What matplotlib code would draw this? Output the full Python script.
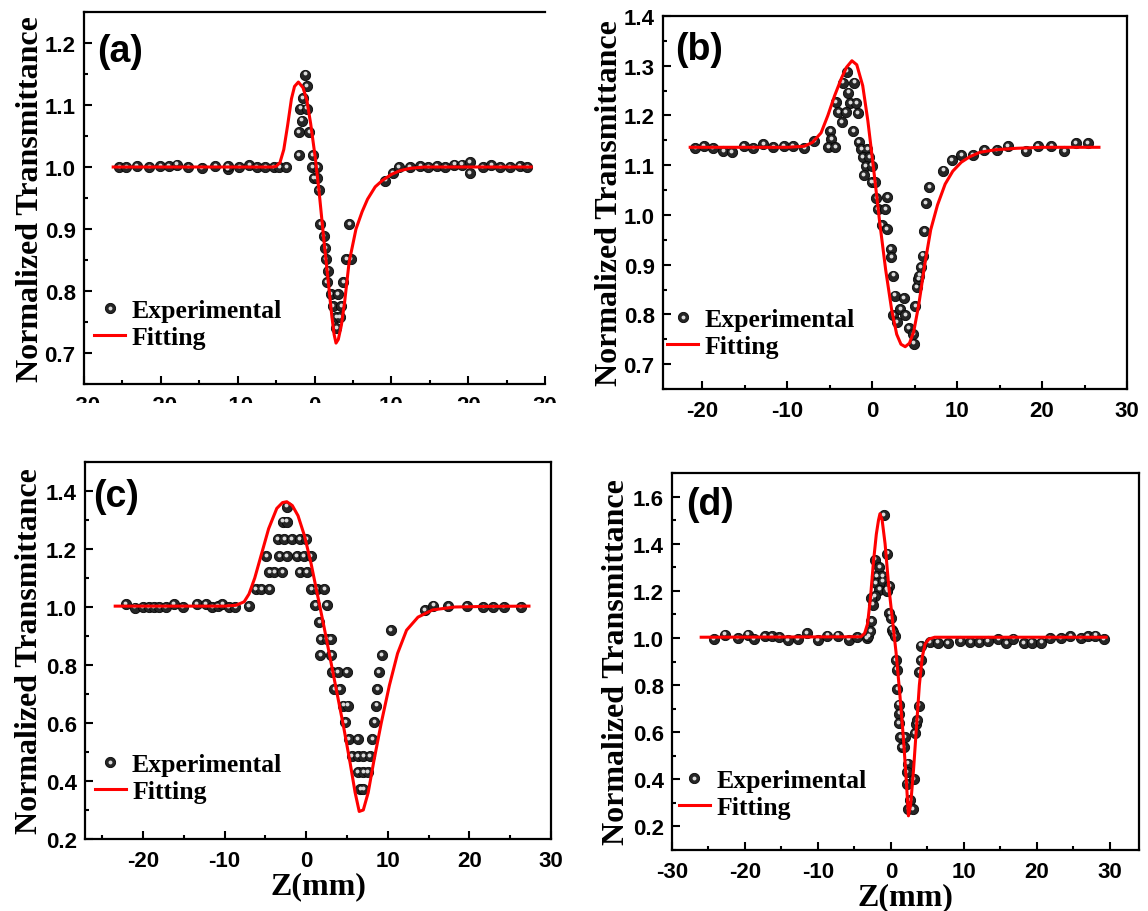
import numpy as np
import matplotlib
matplotlib.use("Agg")
import matplotlib.pyplot as plt
from matplotlib.ticker import MultipleLocator
from matplotlib.patches import Rectangle
from matplotlib.legend_handler import HandlerTuple
import matplotlib.transforms as mtransforms

plt.rcParams["axes.unicode_minus"] = False

# ---------------- data ----------------
a_exp_x = [-25.4, -24.5, -23.1, -21.5, -20.1, -19.0, -17.9, -16.4, -14.7, -12.9, -11.3, -11.3, -9.8, -8.5, -7.5, -6.4,
           -5.3, -4.6, -3.7,
           -1.20, -1.03, -1.54, -1.83, -0.99, -1.66, -2.08, -0.70, -2.08, -0.20, -0.28, 0.34, -0.08, 0.27, 0.55,
           0.76, 4.52, 1.18, 1.39, 1.47, 4.11, 4.73, 1.72, 1.60, 3.77, 2.10, 3.06, 2.35, 3.48, 2.85, 3.27, 2.85,
           9.2, 10.2, 11.0, 12.4, 13.75, 14.8, 15.9, 17.0, 18.2, 19.2, 20.2, 20.2, 21.9, 23.0, 24.2, 25.4, 26.7, 27.7]
a_exp_y = [1.0, 1.0, 1.002, 1.0, 1.001, 1.002, 1.004, 1.0, 0.998, 1.002, 0.996, 1.002, 1.0, 1.003, 1.0, 1.0,
           1.0, 1.0, 1.0,
           1.149, 1.130, 1.111, 1.094, 1.094, 1.075, 1.056, 1.056, 1.019, 1.019, 1.0, 1.0, 0.982, 0.982, 0.963,
           0.908, 0.908, 0.888, 0.869, 0.852, 0.852, 0.852, 0.833, 0.814, 0.814, 0.795, 0.795, 0.776, 0.776, 0.758, 0.758, 0.740,
           0.978, 0.99, 1.0, 1.0, 1.002, 1.0, 1.002, 1.0, 1.004, 1.004, 1.008, 0.99, 1.0, 1.003, 1.0, 1.0, 1.001, 1.0]
a_fit_x = [-26.2, -8, -5.5, -5.0, -4.5, -4.0, -3.5, -3.0, -2.6, -2.1, -1.5, -1.0, -0.5, 0.1, 0.6, 1.2, 1.8, 2.25,
           2.55, 2.8, 3.1, 3.5, 3.9, 4.5, 5.4, 6.2, 6.9, 7.9, 8.8, 10, 11.1, 12.5, 14.3, 20, 28.2]
a_fit_y = [1.0, 1.0, 1.0, 1.001, 1.007, 1.028, 1.067, 1.11, 1.13, 1.137, 1.128, 1.108, 1.07, 1.015, 0.96, 0.885,
           0.814, 0.76, 0.73, 0.716, 0.722, 0.745, 0.78, 0.846, 0.90, 0.928, 0.948, 0.968, 0.978, 0.988, 0.994,
           0.998, 1.0, 1.0, 1.0]

b_exp_x = [-20.8, -19.8, -18.75, -17.5, -16.5, -15.1, -14.0, -12.8, -11.6, -10.4, -9.35, -8.0, -6.8,
           -2.98, -3.43, -2.09, -2.82, -4.24, -2.57, -1.88, -3.99, -3.10, -1.68, -3.59, -2.21, -4.93, -4.81, -5.13,
           -4.32, -1.56, -1.27, -0.58, -1.07, -0.34, -0.74, -0.05, -0.95, -0.05, 0.35, 0.48, 1.78, 0.68, 1.57, 1.17,
           1.70, 2.18, 2.26, 2.51, 2.67, 3.73, 2.51, 3.32, 2.91, 3.89, 4.30, 4.83, 4.91, 5.11, 5.23, 5.43, 5.56, 5.72,
           5.96, 6.17, 6.33, 6.74,
           8.4, 9.4, 10.5, 11.85, 13.2, 14.65, 16.0, 18.1, 19.5, 21.1, 22.6, 24.0, 25.4]
b_exp_y = [1.134, 1.139, 1.135, 1.128, 1.127, 1.139, 1.135, 1.143, 1.136, 1.139, 1.138, 1.134, 1.149,
           1.288, 1.266, 1.266, 1.246, 1.227, 1.225, 1.225, 1.207, 1.207, 1.205, 1.187, 1.169, 1.169, 1.153, 1.136,
           1.136, 1.146, 1.133, 1.133, 1.116, 1.116, 1.098, 1.099, 1.080, 1.066, 1.066, 1.034, 1.036, 1.012, 1.012, 0.979,
           0.972, 0.932, 0.915, 0.878, 0.838, 0.833, 0.798, 0.811, 0.785, 0.798, 0.772, 0.761, 0.741, 0.817, 0.855, 0.871,
           0.878, 0.895, 0.918, 0.968, 1.024, 1.056,
           1.089, 1.11, 1.121, 1.120, 1.131, 1.131, 1.139, 1.129, 1.139, 1.139, 1.129, 1.144, 1.144]
b_fit_x = [-21.4, -10, -8, -7, -6, -5.2, -4.4, -3.6, -3.0, -2.37, -1.8, -1.1, -0.5, 0.2, 0.9, 1.6, 2.3, 2.9, 3.4,
           3.9, 4.4, 4.9, 5.5, 6.2, 6.9, 7.7, 8.6, 9.5, 10.5, 11.5, 12.7, 14.5, 17, 20, 26.7]
b_fit_y = [1.136, 1.136, 1.138, 1.146, 1.165, 1.2, 1.24, 1.275, 1.297, 1.31, 1.302, 1.26, 1.19, 1.09, 0.985, 0.89,
           0.81, 0.76, 0.74, 0.735, 0.742, 0.765, 0.82, 0.9, 0.97, 1.02, 1.062, 1.088, 1.106, 1.117, 1.126, 1.131,
           1.134, 1.136, 1.136]

c_exp_x = [-22.1, -21.0, -20.0, -19.3, -18.7, -18.0, -17.2, -16.2, -15.1, -13.4, -12.3, -11.5, -10.8, -10.3, -9.5,
           -8.7, -7.0,
           -2.37, -2.86, -2.37, -3.48, -2.70, -1.76, -0.81, 0.01, -4.91, -3.27, -2.37, -1.14, -0.32, 0.58,
           -4.5, -3.9, -2.9, -0.8, 0.1, -6.2, -5.5, -4.5, 0.65, 1.3, 2.2, 1.1, 2.5, 1.6, 1.8, 2.5, 3.0, 1.75, 3.1,
           3.2, 3.9, 5.0, 3.45, 4.1, 4.55, 5.13, 4.78, 5.22, 6.34, 5.58, 6.34, 7.0, 7.8, 6.34, 7.0, 7.54, 6.65, 7.0,
           8.12, 8.35, 8.57, 8.7, 8.93, 9.24, 10.36,
           14.5, 15.6, 17.4, 19.7, 21.7, 22.9, 24.2, 26.3]
c_exp_y = [1.01, 0.998, 1.0, 1.0, 1.0, 1.0, 1.0, 1.01, 1.0, 1.01, 1.01, 1.0, 1.003, 1.01, 1.0, 1.0, 1.003,
           1.346, 1.294, 1.294, 1.234, 1.234, 1.234, 1.234, 1.234, 1.176, 1.176, 1.176, 1.176, 1.176, 1.176,
           1.119, 1.119, 1.119, 1.119, 1.119, 1.061, 1.061, 1.061, 1.061, 1.061, 1.061, 1.006, 1.006, 0.948, 0.89,
           0.89, 0.89, 0.833, 0.833, 0.775, 0.775, 0.775, 0.717, 0.717, 0.66, 0.66, 0.602, 0.545, 0.545, 0.487,
           0.487, 0.487, 0.487, 0.43, 0.43, 0.43, 0.373, 0.373,
           0.545, 0.602, 0.66, 0.717, 0.775, 0.833, 0.919,
           0.99, 1.005, 1.003, 1.003, 1.0, 1.0, 1.0, 1.0]
c_fit_x = [-23.4, -10, -8.6, -7.6, -7.0, -6.3, -5.5, -4.6, -3.6, -2.9, -2.37, -1.7, -1.0, -0.2, 0.6, 1.4, 2.2, 3.0,
           3.8, 4.6, 5.4, 6.0, 6.5, 7.0, 7.6, 8.3, 9.2, 10.2, 11.2, 12.3, 13.7, 15.5, 18.2, 22, 27.3]
c_fit_y = [1.003, 1.003, 1.006, 1.018, 1.045, 1.1, 1.18, 1.27, 1.34, 1.36, 1.363, 1.35, 1.315, 1.245, 1.15, 1.04,
           0.93, 0.815, 0.70, 0.585, 0.46, 0.36, 0.295, 0.30, 0.36, 0.47, 0.6, 0.73, 0.84, 0.92, 0.965, 0.99, 1.0,
           1.002, 1.003]

d_exp_x = [-24.3, -22.8, -21.0, -19.6, -18.8, -17.3, -16.3, -15.3, -14.1, -12.8, -11.5, -10.0, -8.7, -7.3, -5.8,
           -4.6, -3.3, -3.1,
           -0.95, -0.5, -2.2, -1.6, -2.0, -1.2, -2.1, -1.1, -1.6, -0.6, -0.2, -2.2, -0.5, -2.5, -2.7, -2.7, -2.84,
           -0.2, 0.0, 0.15, 0.3, 0.5, 0.65, 0.8, 0.9, 1.05, 1.15, 1.05, 1.3, 1.9, 1.5, 1.8, 2.3, 2.15, 2.15, 2.64,
           2.4, 3.0, 3.1, 3.3, 3.5, 3.6, 3.8, 3.9, 4.1, 4.1, 5.3,
           6.4, 7.8, 9.5, 10.9, 12.1, 13.3, 14.7, 15.8, 16.8, 18.2, 19.3, 20.6, 21.8, 23.3, 24.6, 26.0, 27.0, 28.0, 29.2]
d_exp_y = [0.996, 1.014, 1.0, 1.014, 0.996, 1.007, 1.007, 1.003, 0.99, 0.996, 1.021, 0.99, 1.01, 1.01, 0.993,
           1.004, 1.0, 1.008,
           1.52, 1.358, 1.332, 1.30, 1.262, 1.262, 1.233, 1.24, 1.205, 1.205, 1.22, 1.177, 1.2, 1.141, 1.17, 1.07, 1.028,
           1.106, 1.085, 1.035, 1.024, 1.007, 0.905, 0.866, 0.784, 0.717, 0.679, 0.637, 0.58, 0.58, 0.538, 0.538,
           0.467, 0.43, 0.382, 0.312, 0.272, 0.272, 0.402, 0.597, 0.633, 0.651, 0.713, 0.854, 0.905, 0.967, 0.982,
           0.98, 0.978, 0.985, 0.982, 0.982, 0.985, 0.995, 0.978, 0.997, 0.978, 0.98, 0.98, 0.998, 0.998, 1.008,
           0.998, 1.008, 1.01, 0.995]
d_fit_x = [-26, -4.1, -3.6, -3.2, -2.8, -2.4, -2.0, -1.7, -1.5, -1.2, -0.8, -0.3, 0.2, 0.7, 1.2, 1.7, 2.1, 2.4,
           2.7, 3.1, 3.5, 3.9, 4.3, 4.7, 5.2, 6.0, 29.5]
d_fit_y = [1.003, 1.005, 1.02, 1.06, 1.17, 1.32, 1.44, 1.50, 1.527, 1.50, 1.40, 1.22, 1.08, 0.94, 0.77, 0.58,
           0.40, 0.245, 0.29, 0.44, 0.62, 0.8, 0.92, 0.975, 0.995, 1.003, 1.003]

panel_labels = ["(a)", "(b)", "(c)", "(d)"]
ylabel_text = "Normalized Transmittance"
xlabel_text = "Z(mm)"
legend_labels = ["Experimental", "Fitting"]

# ---------------- layout / style ----------------
W, H = 1148, 912
fig = plt.figure(figsize=(W / 100, H / 100), dpi=100)
fig.patch.set_facecolor("white")

SERIF = "Liberation Serif"
SANS = "Liberation Sans"

# pixel boxes: left, right, top, bottom
boxes = [(84, 545, 13, 385), (663, 1127, 17, 390), (85, 551, 463, 840), (672, 1139, 474, 851)]
xlims = [(-30, 30), (-24.6, 30), (-27.1, 30), (-30, 34)]
ylims = [(0.65, 1.25), (0.65, 1.4), (0.2, 1.5), (0.1, 1.7)]
ymaj = [0.1, 0.1, 0.2, 0.2]
xticks_list = [[-30, -20, -10, 0, 10, 20, 30], [-20, -10, 0, 10, 20, 30],
               [-20, -10, 0, 10, 20, 30], [-30, -20, -10, 0, 10, 20, 30]]
leg_anchor = [(0.022, 0.229), (0.009, 0.218), (0.021, 0.229), (0.015, 0.216)]
lab_pos = [(0.028, 0.895), (0.026, 0.912), (0.017, 0.91), (0.03, 0.918)]
ylab_x = [-0.085, -0.085, -0.088, -0.088]

datasets = [(a_exp_x, a_exp_y, a_fit_x, a_fit_y), (b_exp_x, b_exp_y, b_fit_x, b_fit_y),
            (c_exp_x, c_exp_y, c_fit_x, c_fit_y), (d_exp_x, d_exp_y, d_fit_x, d_fit_y)]

MS = 7.4
for i, (box, ds) in enumerate(zip(boxes, datasets)):
    l, r, t, b = box
    ax = fig.add_axes([l / W, 1 - b / H, (r - l) / W, (b - t) / H])
    ex, ey, fx, fy = ds
    base, = ax.plot(ex, ey, ls="none", marker="o", ms=MS, mfc="#262626", mec="#050505", mew=0.6, zorder=3)
    off = mtransforms.offset_copy(ax.transData, fig=fig, x=-0.4, y=0.9, units="points")
    hl, = ax.plot(ex, ey, ls="none", marker="o", ms=2.8, mfc="#dcdcdc", mec="none", transform=off, zorder=4)
    fit, = ax.plot(fx, fy, color="#ff0000", lw=2.2, zorder=5)

    ax.set_xlim(*xlims[i])
    ax.set_xticks(xticks_list[i])
    ax.xaxis.set_minor_locator(MultipleLocator(5))
    ax.yaxis.set_major_locator(MultipleLocator(ymaj[i]))
    ax.yaxis.set_minor_locator(MultipleLocator(ymaj[i] / 2))
    ax.set_ylim(*ylims[i])
    ax.tick_params(which="both", direction="in", top=False, right=False, width=1.5)
    ax.tick_params(which="major", length=6)
    ax.tick_params(which="minor", length=3)
    ax.tick_params(axis="x", which="major", pad=8)
    ax.tick_params(axis="y", which="major", pad=6)
    ax.yaxis.set_major_formatter(matplotlib.ticker.FormatStrFormatter("%.1f"))
    for lab in ax.get_xticklabels() + ax.get_yticklabels():
        lab.set_fontfamily(SANS)
        lab.set_fontweight("bold")
        lab.set_fontsize(16)
    for sp in ax.spines.values():
        sp.set_linewidth(1.6)
    if i == 0:
        ax.spines["right"].set_visible(False)

    ax.set_ylabel(ylabel_text, fontfamily=SERIF, fontweight="bold", fontsize=23)
    ax.yaxis.set_label_coords(ylab_x[i], 0.5)
    if i >= 2:
        ax.set_xlabel(xlabel_text, fontfamily=SERIF, fontweight="bold", fontsize=23, labelpad=0)

    ax.text(lab_pos[i][0], lab_pos[i][1], panel_labels[i], transform=ax.transAxes, ha="left", va="center",
            fontfamily=SANS, fontweight="bold", fontsize=27)

    ax.legend([(base, hl), fit], legend_labels, loc="upper left", bbox_to_anchor=leg_anchor[i],
              frameon=False, borderpad=0, borderaxespad=0, handlelength=1.2, handletextpad=0.25,
              labelspacing=0.18, handler_map={tuple: HandlerTuple(ndivide=1)},
              prop={"family": SERIF, "weight": "bold", "size": 18.5})

# white cover over the clipped tick labels below panel (a)
fig.patches.append(Rectangle((60 / W, 1 - 450 / H), 500 / W, (450 - 404) / H, transform=fig.transFigure,
                             facecolor="white", edgecolor="none", zorder=10))

fig.savefig("out.png", dpi=100, facecolor="white")
